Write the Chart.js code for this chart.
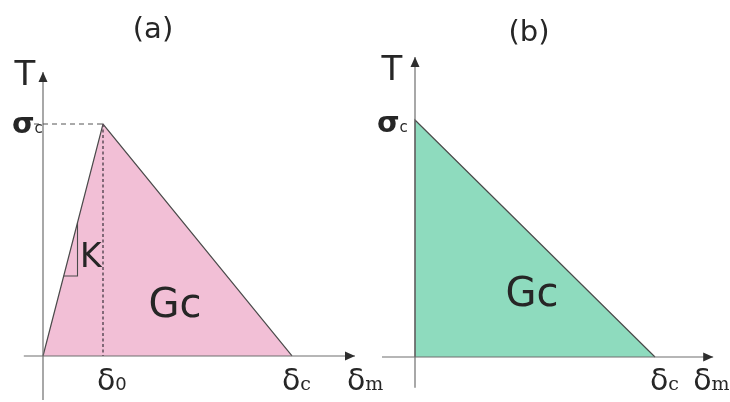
<!DOCTYPE html>
<html><head><meta charset="utf-8">
<script src="https://cdn.jsdelivr.net/npm/chart.js@4"></script>
<style>html,body{margin:0;padding:0;background:#fff;overflow:hidden}canvas{display:block}</style>
</head><body>
<canvas id="c" width="730" height="402"></canvas>
<script>
// ---- data (normalised units: δ0 = 1, σc = 1) ----
const panels = ['(a)', '(b)'];
// (a) bilinear law: 0 -> (δ0, σc) -> δc
const lawA_delta = [0, 1.0, 4.15];
const lawA_traction = [0, 1.0, 0];
// (b) linear softening law: σc at 0 -> δc
const lawB_delta = [0, 0, 4.0];
const lawB_traction = [0, 1.0, 0];
// stiffness K marker (small right triangle on the loading branch)
const stiffness_delta = [0.345, 0.575, 0.575];
const stiffness_traction = [0.345, 0.345, 0.575];
// axis extents
const axisA_delta = [-0.32, 5.2];
const axisA_traction = [-0.19, 1.224];
const axisB_delta = [-0.55, 4.97];
const axisB_traction = [-0.13, 1.266];
// σc guide start
const guideA_start = -0.15;

const zip = (xs, ys) => xs.map((x, i) => ({x: x, y: ys[i]}));
const AXIS = '#6e6e6e', EDGE = '#4a4a4a', TXT = '#262626';
const F = '"DejaVu Sans", sans-serif', FS = '"DejaVu Serif", serif';

function line(data, xs, ys, opts) {
  return Object.assign({data: data, xAxisID: xs, yAxisID: ys, showLine: true, fill: false,
    pointRadius: 0, borderWidth: 1.2, borderColor: AXIS, tension: 0, order: 1}, opts || {});
}

const datasets = [
  line(zip(lawA_delta, lawA_traction), 'xa', 'ya', {fill: 'origin', backgroundColor: '#F2BFD6', borderColor: EDGE, order: 10}),
  line(zip(lawB_delta, lawB_traction), 'xb', 'yb', {fill: 'origin', backgroundColor: '#8EDBBE', borderColor: EDGE, order: 10}),
  line([{x: guideA_start, y: lawA_traction[1]}, {x: lawA_delta[1], y: lawA_traction[1]}], 'xa', 'ya', {borderDash: [5, 4], borderColor: '#555', borderWidth: 1}),
  line([{x: lawA_delta[1], y: lawA_traction[1]}, {x: lawA_delta[1], y: 0}], 'xa', 'ya', {borderDash: [3, 2.5], borderColor: '#5e4d5a', borderWidth: 1.5}),
  line(zip(stiffness_delta, stiffness_traction), 'xa', 'ya', {borderColor: EDGE, borderWidth: 1.1}),
  line([{x: axisA_delta[0], y: 0}, {x: axisA_delta[1], y: 0}], 'xa', 'ya', {arrow: true}),
  line([{x: 0, y: axisA_traction[0]}, {x: 0, y: axisA_traction[1]}], 'xa', 'ya', {arrow: true}),
  line([{x: axisB_delta[0], y: 0}, {x: axisB_delta[1], y: 0}], 'xb', 'yb', {arrow: true}),
  line([{x: 0, y: axisB_traction[0]}, {x: 0, y: axisB_traction[1]}], 'xb', 'yb', {arrow: true})
];

// text labels: anchor in data space + pixel offset
const labels = [
  {xs: 'xa', ys: 'ya', x: 0, y: 0, dx: 110, dy: -318, align: 'center', parts: [[panels[0], '29px ' + F]]},
  {xs: 'xb', ys: 'yb', x: 0, y: 0, dx: 114, dy: -316, align: 'center', parts: [[panels[1], '29px ' + F]]},
  {xs: 'xa', ys: 'ya', x: 0, y: axisA_traction[1], dx: -18, dy: 13, align: 'center', parts: [['T', '34px ' + F]]},
  {xs: 'xb', ys: 'yb', x: 0, y: axisB_traction[1], dx: -23, dy: 23, align: 'center', parts: [['T', '34px ' + F]]},
  {xs: 'xa', ys: 'ya', x: 0, y: lawA_traction[1], dx: -31, dy: 9, align: 'left', parts: [['σ', 'bold 29px ' + F], ['c', '15px ' + F]]},
  {xs: 'xb', ys: 'yb', x: 0, y: lawB_traction[1], dx: -38, dy: 12, align: 'left', parts: [['σ', 'bold 29px ' + F], ['c', '15px ' + F]]},
  {xs: 'xa', ys: 'ya', x: stiffness_delta[1], y: stiffness_traction[0], dx: 2.5, dy: -9, align: 'left', parts: [['K', '33px ' + F]]},
  {xs: 'xa', ys: 'ya', x: 0, y: 0, dx: 132, dy: -39, align: 'center', parts: [['Gc', '40px ' + F]]},
  {xs: 'xb', ys: 'yb', x: 0, y: 0, dx: 117, dy: -51, align: 'center', parts: [['Gc', '40px ' + F]]},
  {xs: 'xa', ys: 'ya', x: lawA_delta[1], y: 0, dx: -6, dy: 34, align: 'left', parts: [['δ', '30px ' + F], ['0', '18px ' + F]]},
  {xs: 'xa', ys: 'ya', x: lawA_delta[2], y: 0, dx: -10, dy: 34, align: 'left', parts: [['δ', '30px ' + F], ['c', '19px ' + FS]]},
  {xs: 'xa', ys: 'ya', x: axisA_delta[1], y: 0, dx: -8, dy: 34, align: 'left', parts: [['δ', '30px ' + F], ['m', '19px ' + FS]]},
  {xs: 'xb', ys: 'yb', x: lawB_delta[2], y: 0, dx: -5, dy: 33, align: 'left', parts: [['δ', '30px ' + F], ['c', '19px ' + FS]]},
  {xs: 'xb', ys: 'yb', x: axisB_delta[1], y: 0, dx: -20, dy: 33, align: 'left', parts: [['δ', '30px ' + F], ['m', '19px ' + FS]]}
];

const arrowPlugin = {
  id: 'arrows',
  afterDatasetsDraw(chart) {
    const ctx = chart.ctx;
    chart.data.datasets.forEach((ds, i) => {
      if (!ds.arrow) return;
      const pts = chart.getDatasetMeta(i).data;
      const a = pts[0], b = pts[pts.length - 1];
      const ang = Math.atan2(b.y - a.y, b.x - a.x);
      const L = 10, W = 4.5;
      ctx.save();
      ctx.translate(b.x, b.y);
      ctx.rotate(ang);
      ctx.beginPath();
      ctx.moveTo(0, 0);
      ctx.lineTo(-L, -W);
      ctx.lineTo(-L, W);
      ctx.closePath();
      ctx.fillStyle = '#2e2e2e';
      ctx.fill();
      ctx.restore();
    });
  }
};

const labelPlugin = {
  id: 'labels',
  afterDraw(chart) {
    const ctx = chart.ctx;
    ctx.save();
    ctx.fillStyle = TXT;
    ctx.textBaseline = 'alphabetic';
    ctx.textAlign = 'left';
    labels.forEach(l => {
      const px = chart.scales[l.xs].getPixelForValue(l.x) + l.dx;
      const py = chart.scales[l.ys].getPixelForValue(l.y) + l.dy;
      let w = 0;
      l.parts.forEach(p => { ctx.font = p[1]; w += ctx.measureText(p[0]).width; });
      let x = l.align === 'center' ? px - w / 2 : px;
      l.parts.forEach(p => { ctx.font = p[1]; ctx.fillText(p[0], x, py); x += ctx.measureText(p[0]).width; });
    });
    ctx.restore();
  }
};

const hidden = (min, max, extra) => Object.assign({type: 'linear', display: false, min: min, max: max}, extra || {});

new Chart(document.getElementById('c'), {
  type: 'scatter',
  data: {datasets: datasets},
  options: {
    responsive: false,
    animation: false,
    devicePixelRatio: 1,
    layout: {padding: 0},
    plugins: {legend: {display: false}, tooltip: {enabled: false}},
    scales: {
      xa: hidden(-0.7167, 11.45, {position: 'bottom'}),
      ya: hidden(-0.1983, 1.5345, {position: 'left'}),
      xb: hidden(-6.9167, 5.25, {position: 'bottom'}),
      yb: hidden(-0.1899, 1.5063, {position: 'left'})
    }
  },
  plugins: [arrowPlugin, labelPlugin]
});
</script>
</body></html>
